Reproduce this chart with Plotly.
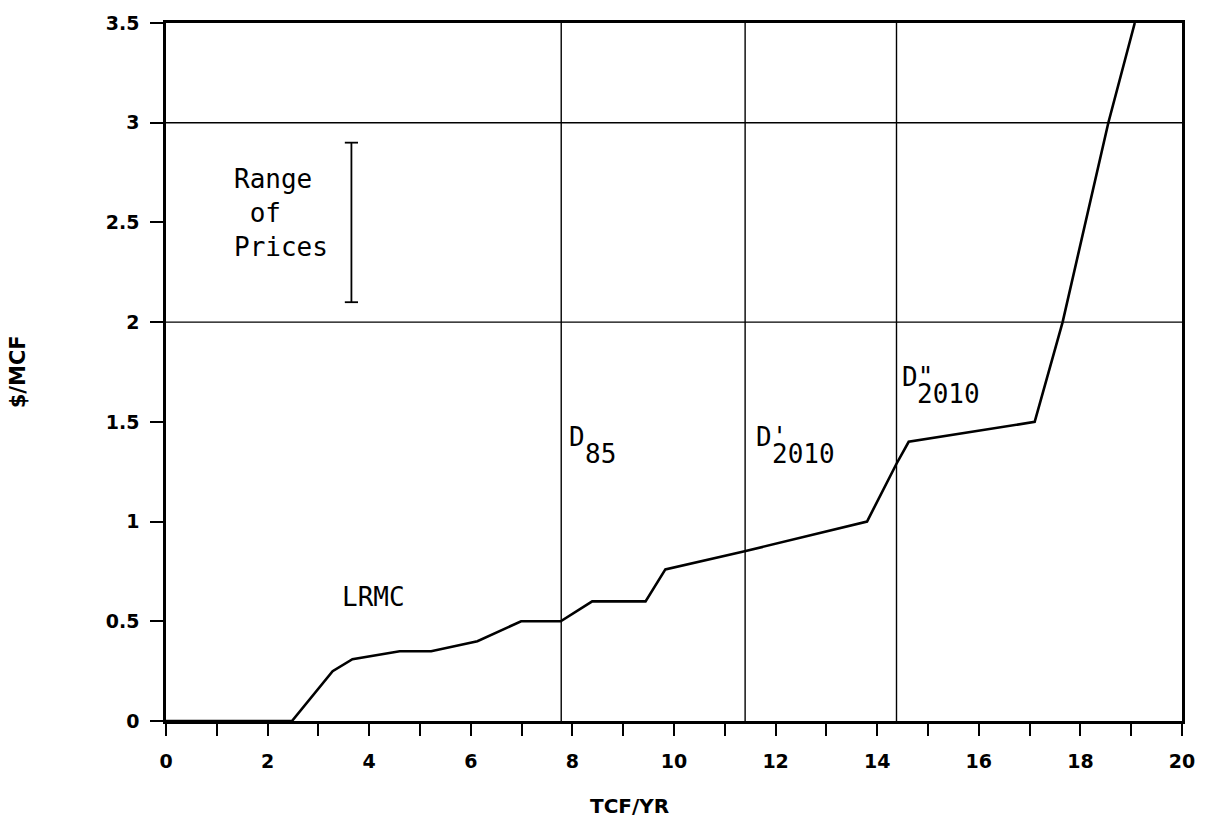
import plotly.graph_objects as go

# Long-run marginal cost curve (TCF/YR vs $/MCF)
lrmc_x = [0, 2.48, 3.28, 3.67, 4.6, 5.22, 6.13, 6.99, 7.77, 8.39, 9.44, 9.83,
          11.37, 13.8, 14.38, 14.62, 17.1, 17.65, 18.55, 19.07]
lrmc_y = [0, 0, 0.25, 0.31, 0.35, 0.35, 0.40, 0.50, 0.50, 0.60, 0.60, 0.76,
          0.85, 1.00, 1.29, 1.40, 1.50, 2.00, 3.00, 3.50]

# Demand levels (vertical lines) and their labels
demand_x = [7.78, 11.4, 14.38]
demand_main = ["D", "D'", 'D"']
demand_sub = ["85", "2010", "2010"]
demand_label_y = [1.424, 1.424, 1.727]
demand_label_shift = [6, 9, 3]

# Horizontal reference lines
ref_y = [2, 3]

# Range of prices bar
range_x = 3.65
range_lo, range_hi = 2.1, 2.9

x_ticks = list(range(0, 21))
x_ticktext = [str(v) if v % 2 == 0 else "" for v in x_ticks]
y_ticks = [0, 0.5, 1, 1.5, 2, 2.5, 3, 3.5]
y_ticktext = ["0", "0.5", "1", "1.5", "2", "2.5", "3", "3.5"]

fig = go.Figure()

for xv in demand_x:
    fig.add_trace(go.Scatter(x=[xv, xv], y=[0, 3.5], mode="lines",
                             line=dict(color="black", width=1.4),
                             showlegend=False, hoverinfo="skip"))
for yv in ref_y:
    fig.add_trace(go.Scatter(x=[0, 20], y=[yv, yv], mode="lines",
                             line=dict(color="black", width=1.4),
                             showlegend=False, hoverinfo="skip"))

fig.add_trace(go.Scatter(x=lrmc_x, y=lrmc_y, mode="lines",
                         line=dict(color="black", width=2.6),
                         showlegend=False))

# Range of prices bar with caps
cap = 0.13
fig.add_trace(go.Scatter(
    x=[range_x, range_x, None, range_x - cap, range_x + cap, None, range_x - cap, range_x + cap],
    y=[range_lo, range_hi, None, range_hi, range_hi, None, range_lo, range_lo],
    mode="lines", line=dict(color="black", width=1.8),
    showlegend=False, hoverinfo="skip"))

mono = dict(family="DejaVu Sans Mono", size=26, color="black")
char_w = 0.602 * mono["size"]
bold = dict(family="DejaVu Sans", color="black", weight="bold")

annotations = [
    dict(x=1.30, y=2.545, text="Range<br> of<br>Prices", showarrow=False,
         xanchor="left", yanchor="middle", align="left", font=mono),
    dict(x=4.09, y=0.62, text="LRMC", showarrow=False, xanchor="center",
         yanchor="middle", font=mono),
    dict(x=0.456, y=0, xref="paper", yref="paper", yshift=-85, text="TCF/YR",
         showarrow=False, xanchor="center", yanchor="middle", font=dict(size=20, **bold)),
    dict(x=-0.1454, y=0.5, xref="paper", yref="paper", text="$/MCF", textangle=-90,
         showarrow=False, xanchor="center", yanchor="middle", font=dict(size=21, **bold)),
]
for xv, main, sub, ly, sh in zip(demand_x, demand_main, demand_sub,
                                 demand_label_y, demand_label_shift):
    annotations.append(dict(x=xv, y=ly, text=main, showarrow=False,
                            xanchor="left", yanchor="middle", xshift=sh, font=mono))
    annotations.append(dict(x=xv, y=ly, text=sub, showarrow=False,
                            xanchor="left", yanchor="middle", xshift=sh + char_w,
                            yshift=-17, font=mono))

fig.update_layout(
    width=1207, height=824,
    margin=dict(l=166, r=23, t=18, b=103),
    paper_bgcolor="white", plot_bgcolor="white",
    annotations=annotations,
    xaxis=dict(range=[0, 20], tickvals=x_ticks, ticktext=x_ticktext,
               ticks="outside", ticklen=12, tickwidth=2, tickcolor="black",
               ticklabelstandoff=9,
               showgrid=False, zeroline=False, showline=True, linecolor="black",
               linewidth=2.5, mirror=True,
               tickfont=dict(size=19, **bold)),
    yaxis=dict(range=[0, 3.5], tickvals=y_ticks, ticktext=y_ticktext,
               ticks="outside", ticklen=13, tickwidth=2, tickcolor="black",
               ticklabelstandoff=7,
               showgrid=False, zeroline=False, showline=True, linecolor="black",
               linewidth=2.5, mirror=True,
               tickfont=dict(size=19, **bold)),
)

fig.write_html("out.html")
